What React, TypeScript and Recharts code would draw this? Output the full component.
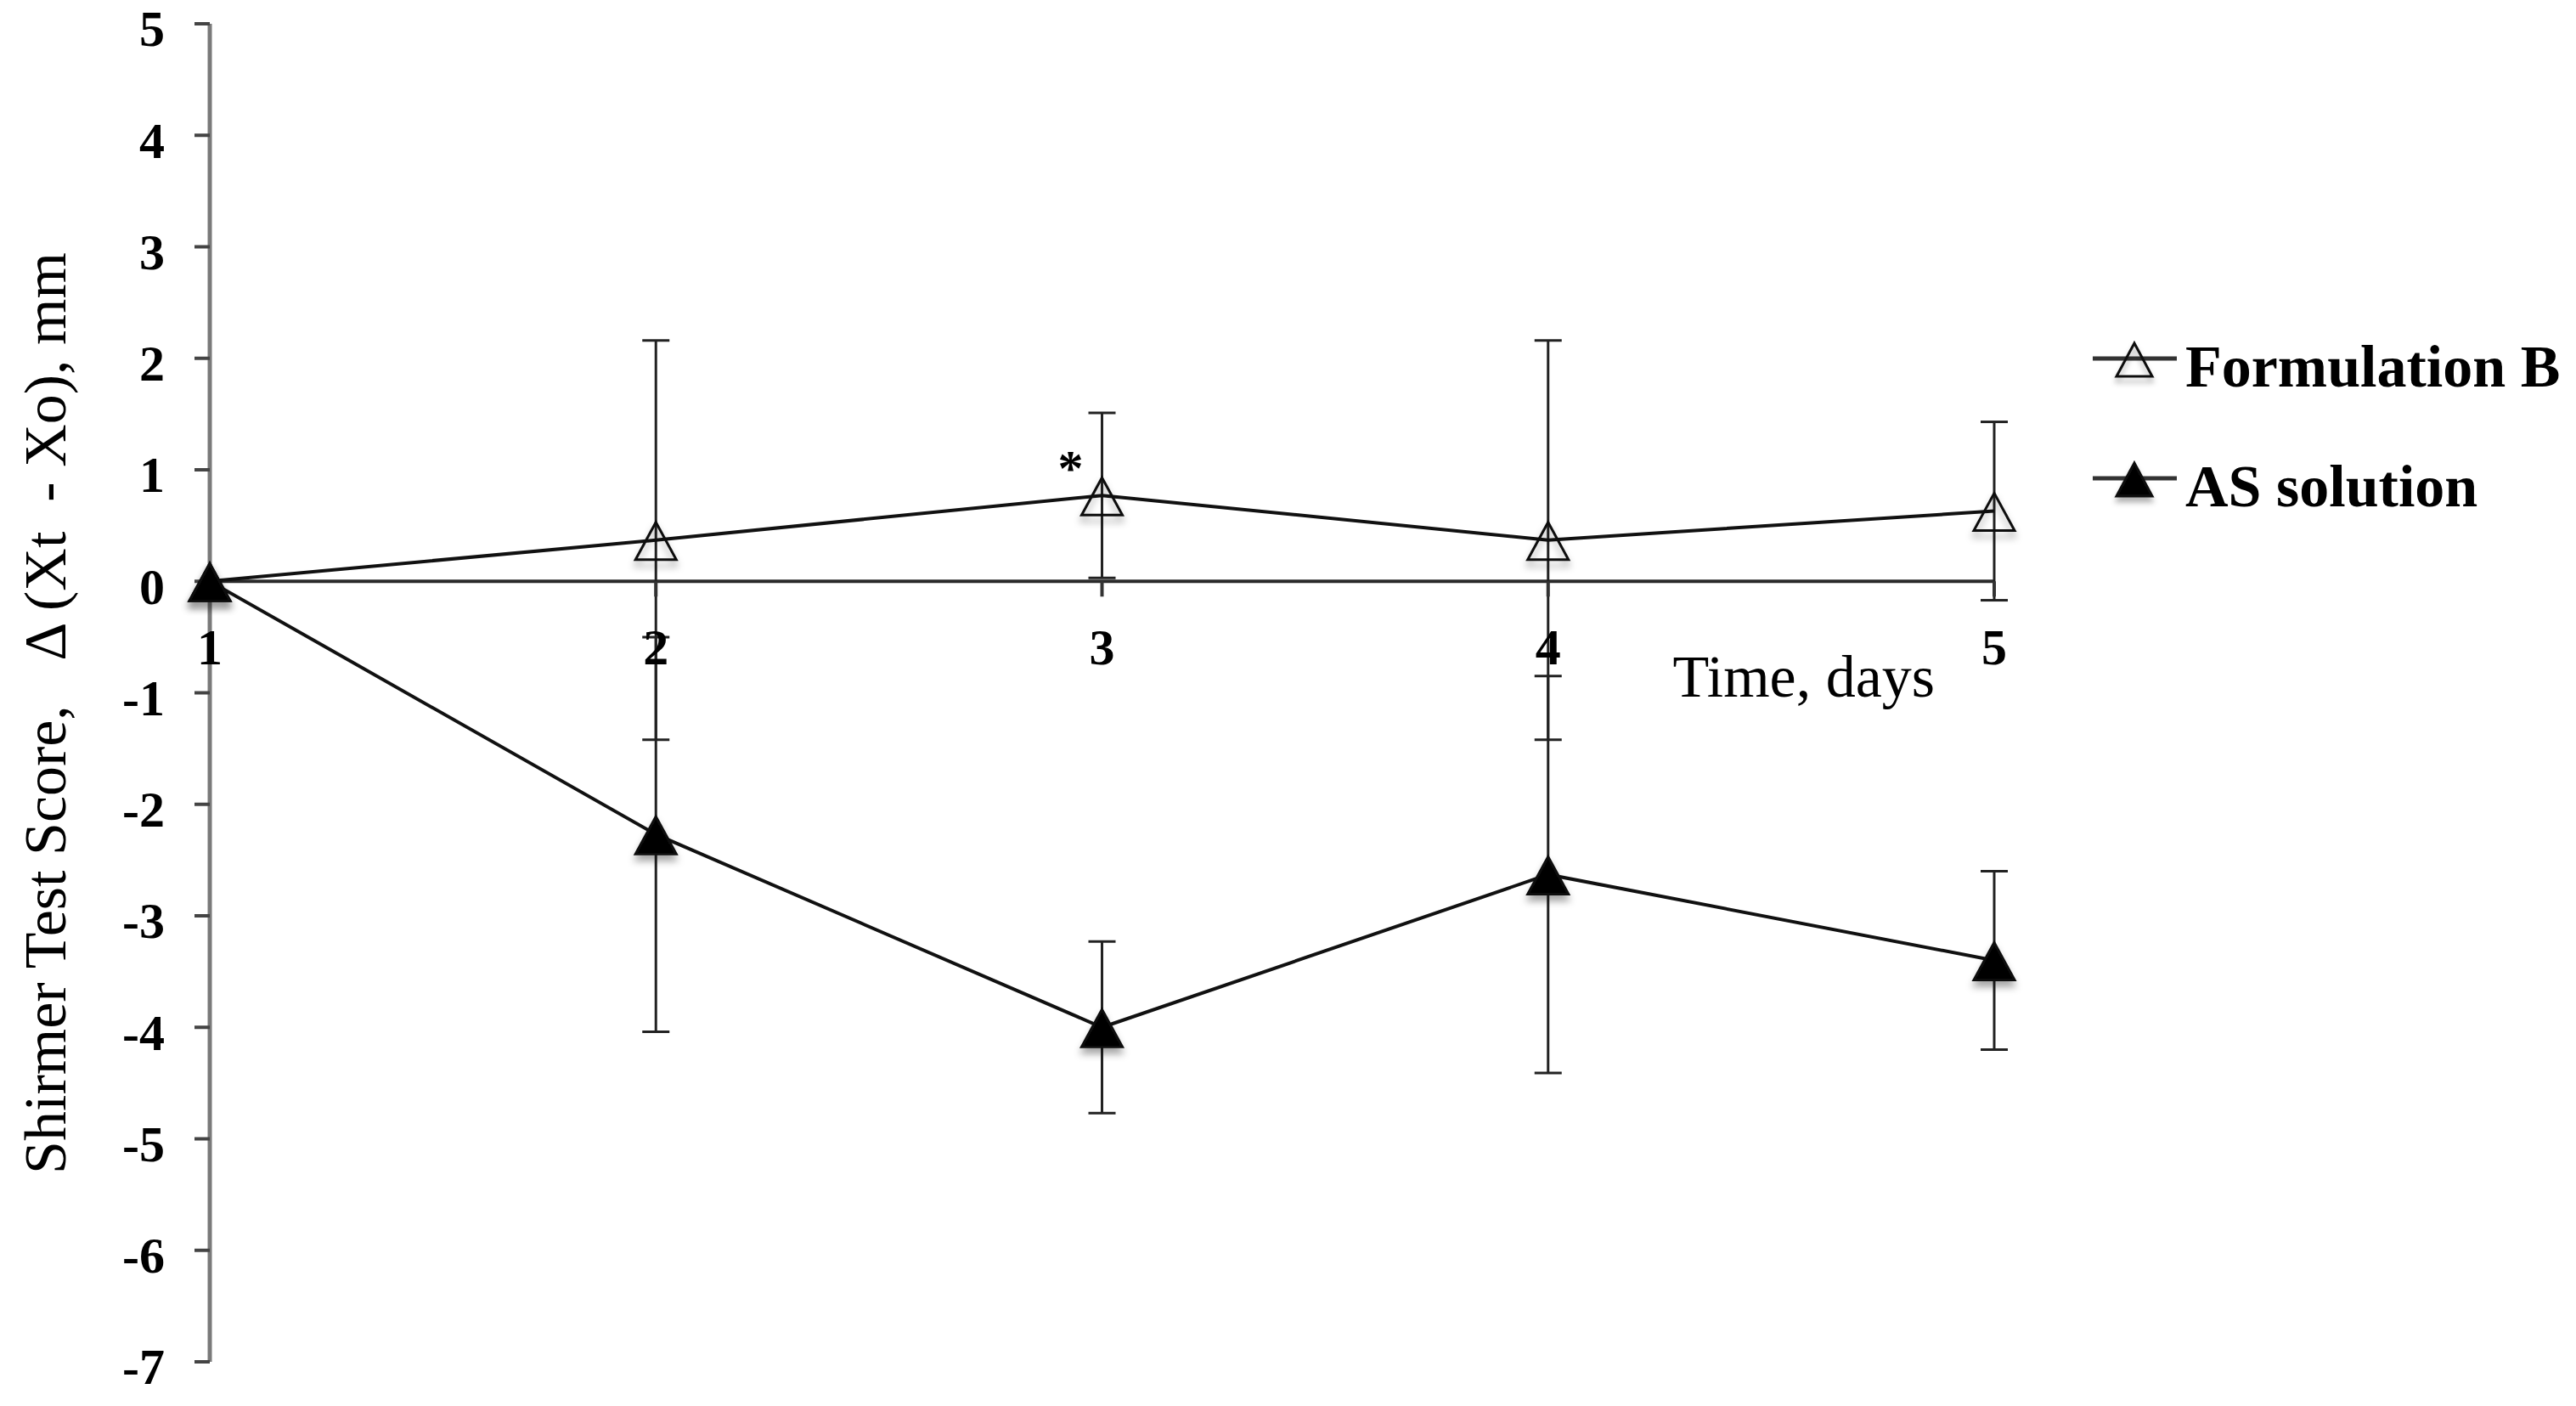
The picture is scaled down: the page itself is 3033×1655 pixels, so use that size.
import React from 'react';
import { LineChart, Line, XAxis, YAxis, ErrorBar, ReferenceLine, ReferenceDot, Legend, LabelList } from 'recharts';

const days = [1, 2, 3, 4, 5];
const formulationB = [0, 0.37, 0.77, 0.37, 0.63];
const formulationBErr = [0, 1.79, 0.74, 1.79, 0.8];
const asSolution = [0, -2.27, -4.0, -2.63, -3.4];
const asSolutionErr = [0, 1.77, 0.77, 1.78, 0.8];
const significance = ['', '', '*', '', ''];
const yTicks = [5, 4, 3, 2, 1, 0, -1, -2, -3, -4, -5, -6, -7];
const seriesNames = ['Formulation B', 'AS solution'];
const seriesKeys = ['fb', 'as'];
const xTitle = 'Time, days';
const yTitle = 'Shirmer Test Score,   \u0394 (Xt  - Xo), mm';

const SERIF = "'Liberation Serif', 'Times New Roman', serif";

const data = days.map((d, i) => ({
  day: d,
  fb: formulationB[i],
  fbErr: formulationBErr[i],
  as: asSolution[i],
  asErr: asSolutionErr[i],
  sig: significance[i],
}));

const ShadowDefs = () => (
  <defs>
    <filter id="mkShadow" x="-50%" y="-50%" width="200%" height="220%">
      <feDropShadow dx="0" dy="7" stdDeviation="4" floodColor="#000" floodOpacity="0.35" />
    </filter>
  </defs>
);

const triPath = (cx: number, cy: number, hw: number, up: number, down: number) =>
  `M${cx},${cy - up} L${cx + hw},${cy + down} L${cx - hw},${cy + down} Z`;

const makeDot = (filled: boolean) => (props: any) => {
  const { cx, cy, index } = props;
  if (cx == null || cy == null) return <g key={`d${index}`} />;
  return (
    <g key={`d${index}`}>
      {index === 0 && <ShadowDefs />}
      <path
        d={triPath(cx, cy, 24, 21, 23)}
        fill={filled ? '#000' : 'none'}
        stroke="#111"
        strokeWidth={3}
        strokeLinejoin="miter"
        filter="url(#mkShadow)"
      />
    </g>
  );
};

const renderSig = (props: any) => {
  const { x, y, value, index } = props;
  if (!value) return null;
  return (
    <text
      key={`s${index}`}
      x={x - 37}
      y={y - 12}
      textAnchor="middle"
      fontFamily={SERIF}
      fontWeight="bold"
      fontSize={60}
      fill="#000"
    >
      {value}
    </text>
  );
};

const renderLegend = (props: any) => {
  const payload = [...(props.payload || [])].sort(
    (a: any, b: any) => seriesKeys.indexOf(a.dataKey) - seriesKeys.indexOf(b.dataKey)
  );
  return (
    <svg width={593} height={280} style={{ display: 'block', overflow: 'visible' }}>
      <defs>
        <filter id="lgShadow" x="-50%" y="-50%" width="200%" height="220%">
          <feDropShadow dx="0" dy="6" stdDeviation="3" floodColor="#000" floodOpacity="0.3" />
        </filter>
      </defs>
      {payload.map((entry: any, i: number) => {
        const ly = 62 + i * 141;
        const filled = entry.dataKey === 'as';
        return (
          <g key={`lg${i}`}>
            <line x1={24} y1={ly} x2={123} y2={ly} stroke="#333" strokeWidth={5} />
            <path
              d={triPath(73, ly + 1, 21, 19, 20)}
              fill={filled ? '#000' : 'none'}
              stroke="#111"
              strokeWidth={3}
              filter="url(#lgShadow)"
            />
            <text x={133} y={ly + 33} fontFamily={SERIF} fontWeight="bold" fontSize={70} fill="#000">
              {entry.value}
            </text>
          </g>
        );
      })}
    </svg>
  );
};

export default function App() {
  return (
    <div style={{ width: 3033, height: 1655, overflow: 'hidden', background: '#fff' }}>
      <style>{'body{margin:0;}'}</style>
      <LineChart
        width={3033}
        height={1655}
        data={data}
        margin={{ top: 28, right: 685, bottom: 52, left: 0 }}
      >
        <XAxis type="number" dataKey="day" domain={[1, 5]} ticks={days} hide />
        <YAxis
          type="number"
          domain={[-7, 5]}
          ticks={yTicks}
          interval={0}
          width={247}
          allowDataOverflow
          axisLine={{ stroke: '#7a7a7a', strokeWidth: 5 }}
          tickLine={{ stroke: '#444', strokeWidth: 4 }}
          tickSize={18}
          tickMargin={35}
          tick={{ fill: '#000', fontSize: 60, fontWeight: 'bold', fontFamily: SERIF, dy: 5 }}
          label={{
            content: (p: any) => {
              const vb = p.viewBox || { x: 0, y: 0, width: 0, height: 0 };
              const tx = vb.x + 77;
              const ty = vb.y + vb.height / 2 + 24;
              return (
                <text
                  x={tx}
                  y={ty}
                  transform={`rotate(-90, ${tx}, ${ty})`}
                  textAnchor="middle"
                  fontFamily={SERIF}
                  fontSize={70}
                  fill="#000"
                  style={{ whiteSpace: 'pre' }}
                >
                  {yTitle}
                </text>
              );
            },
          }}
        />
        <ReferenceLine
          segment={[{ x: days[0], y: 0 }, { x: days[days.length - 1], y: 0 }]}
          stroke="#2a2a2a"
          strokeWidth={4}
          ifOverflow="visible"
          label={{
            content: (p: any) => {
              const vb = p.viewBox || { x: 0, y: 0, width: 0, height: 0 };
              return (
                <text
                  x={vb.x + vb.width - 70}
                  y={vb.y + 136}
                  textAnchor="end"
                  fontFamily={SERIF}
                  fontSize={70}
                  fill="#000"
                >
                  {xTitle}
                </text>
              );
            },
          }}
        />
        <Line
          name={seriesNames[0]}
          dataKey="fb"
          type="linear"
          stroke="#111"
          strokeWidth={4}
          dot={makeDot(false)}
          activeDot={false}
          isAnimationActive={false}
        >
          <ErrorBar dataKey="fbErr" direction="y" width={16} stroke="#222" strokeWidth={3} isAnimationActive={false} />
          <LabelList dataKey="sig" content={renderSig} />
        </Line>
        <Line
          name={seriesNames[1]}
          dataKey="as"
          type="linear"
          stroke="#111"
          strokeWidth={4}
          dot={makeDot(true)}
          activeDot={false}
          isAnimationActive={false}
        >
          <ErrorBar dataKey="asErr" direction="y" width={16} stroke="#222" strokeWidth={3} isAnimationActive={false} />
        </Line>
        {days.map((d) => (
          <ReferenceDot
            key={`xt${d}`}
            x={d}
            y={0}
            r={0}
            ifOverflow="visible"
            shape={(p: any) => (
              <g>
                <line x1={p.cx} y1={p.cy} x2={p.cx} y2={p.cy + 18} stroke="#333" strokeWidth={4} />
                <text
                  x={p.cx}
                  y={p.cy + 98}
                  textAnchor="middle"
                  fontFamily={SERIF}
                  fontWeight="bold"
                  fontSize={60}
                  fill="#000"
                >
                  {d}
                </text>
              </g>
            )}
          />
        ))}
        <Legend
          layout="horizontal"
          verticalAlign="middle"
          align="center"
          content={renderLegend}
          wrapperStyle={{ left: 2440, top: 360, width: 593, height: 280 }}
        />
      </LineChart>
    </div>
  );
}
